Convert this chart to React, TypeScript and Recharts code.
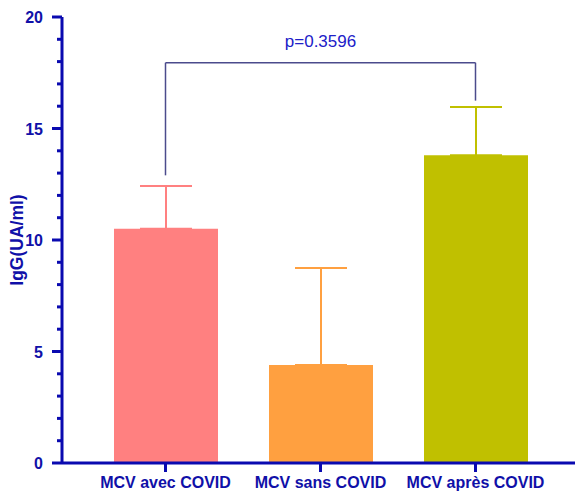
import React from 'react';
import { BarChart, Bar, Cell, XAxis, YAxis, ErrorBar, ReferenceLine } from 'recharts';

// groupes et valeurs
const categories = ['MCV avec COVID', 'MCV sans COVID', 'MCV après COVID'];
const means = [10.5, 4.4, 13.8];
const sdUp = [1.92, 4.35, 2.16];
const barColors = ['#FF8080', '#FFA040', '#C0C000'];
const yTicks = [0, 1, 2, 3, 4, 5, 6, 7, 8, 9, 10, 11, 12, 13, 14, 15, 16, 17, 18, 19, 20];

// crochet de comparaison
const bracketTop = 17.95;
const bracketLeftEnd = 12.9;
const bracketRightEnd = 16.25;
const pLabel = 'p=0.3596';

const AXIS = '#0A0AB0';
const TEXT = '#1010A8';
const FONT = '"Liberation Sans", Arial, sans-serif';

const data = categories.map((name, i) => {
  const row: any = { name, mean: means[i] };
  row[`err${i}`] = [0, sdUp[i]];
  return row;
});

const YTick = (props: any) => {
  const { x, y, payload } = props;
  const major = payload.value % 5 === 0;
  return (
    <g>
      <line x1={x - (major ? 10 : 5)} x2={x} y1={y} y2={y} stroke={AXIS} strokeWidth={3} />
      {major && (
        <text x={x - 19} y={y} dy={6} textAnchor="end" fill={TEXT} fontSize={16} fontWeight="bold" fontFamily={FONT}>
          {payload.value}
        </text>
      )}
    </g>
  );
};

const YLabel = (props: any) => {
  const { viewBox } = props;
  const cx = viewBox.x + 23;
  const cy = viewBox.y + viewBox.height / 2;
  return (
    <text x={cx} y={cy} transform={`rotate(-90, ${cx}, ${cy})`} textAnchor="middle" fill={TEXT} fontSize={17.5} fontWeight="bold" fontFamily={FONT}>
      IgG(UA/ml)
    </text>
  );
};

export default function App() {
  return (
    <div style={{ position: 'absolute', left: 0, top: 0, width: 576, height: 493, background: '#fff' }}>
      <BarChart width={576} height={493} data={data} margin={{ top: 17, right: 1, bottom: 0, left: 0 }} barSize={104}>
        <XAxis
          dataKey="name"
          height={30}
          padding={{ left: 26, right: 22 }}
          axisLine={{ stroke: AXIS, strokeWidth: 3 }}
          tickLine={{ stroke: AXIS, strokeWidth: 3 }}
          tickSize={9}
          tickMargin={5}
          tick={{ fill: TEXT, fontSize: 16, fontWeight: 'bold', fontFamily: FONT }}
          interval={0}
        />
        <YAxis
          width={62}
          domain={[0, 20]}
          ticks={yTicks}
          interval={0}
          axisLine={{ stroke: AXIS, strokeWidth: 3 }}
          tickLine={false}
          tickSize={0}
          tickMargin={0}
          tick={<YTick />}
          label={{ content: <YLabel /> }}
        />
        <Bar dataKey="mean" isAnimationActive={false}>
          {data.map((d, i) => (
            <Cell key={d.name} fill={barColors[i]} />
          ))}
          {categories.map((c, i) => (
            <ErrorBar key={c} dataKey={`err${i}`} width={26} stroke={barColors[i]} strokeWidth={2} isAnimationActive={false} />
          ))}
        </Bar>
        <ReferenceLine
          segment={[{ x: categories[0], y: bracketTop }, { x: categories[2], y: bracketTop }]}
          stroke="#4B4B8C"
          strokeWidth={1.5}
          label={{ value: pLabel, position: 'top', offset: 16, fill: '#2020C8', fontSize: 17, fontFamily: FONT }}
        />
        <ReferenceLine
          segment={[{ x: categories[0], y: bracketTop }, { x: categories[0], y: bracketLeftEnd }]}
          stroke="#4B4B8C"
          strokeWidth={1.5}
        />
        <ReferenceLine
          segment={[{ x: categories[2], y: bracketTop }, { x: categories[2], y: bracketRightEnd }]}
          stroke="#4B4B8C"
          strokeWidth={1.5}
        />
      </BarChart>
    </div>
  );
}
